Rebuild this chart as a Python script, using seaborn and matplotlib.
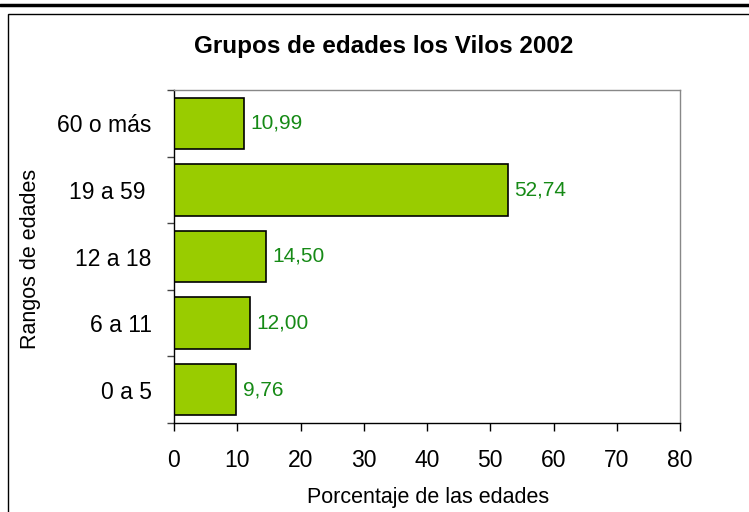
import matplotlib
matplotlib.use("Agg")
import matplotlib.pyplot as plt
import seaborn as sns
import pandas as pd
from matplotlib.patches import Rectangle
from matplotlib.lines import Line2D

rangos = ["60 o más", "19 a 59 ", "12 a 18", "6 a 11", "0 a 5"]
porcentajes = [10.99, 52.74, 14.50, 12.00, 9.76]
ticks_x = [0, 10, 20, 30, 40, 50, 60, 70, 80]

df = pd.DataFrame({"rango": rangos, "pct": porcentajes})

sns.set_style("white")
plt.rcParams["font.family"] = ["Liberation Sans", "DejaVu Sans"]
plt.rcParams["text.color"] = "black"
plt.rcParams["xtick.color"] = "black"
plt.rcParams["ytick.color"] = "black"

fig = plt.figure(figsize=(7.49, 5.12), dpi=100)
ax = fig.add_axes([174 / 749, 1 - 423 / 512, (680 - 174) / 749, (423 - 90) / 512])

sns.barplot(data=df, x="pct", y="rango", order=rangos, orient="h",
            color="#99CC00", saturation=1, edgecolor="black", linewidth=1.2,
            width=0.77, ax=ax)

for i, v in enumerate(porcentajes):
    ax.text(v + 1.1, i, f"{v:.2f}".replace(".", ","), va="center", ha="left",
            color="#168A16", fontsize=15)

ax.set_xlim(0, 80)
ax.set_ylim(4.5, -0.5)
ax.set_xticks(ticks_x)
ax.tick_params(axis="x", direction="out", length=6, width=1, color="black",
               labelsize=16.5, pad=13, bottom=True)
ax.set_yticks(range(len(rangos)))
ax.set_yticklabels(rangos)
ax.tick_params(axis="y", which="major", length=0, labelsize=16.5, pad=16)
ax.set_yticks([i - 0.5 for i in range(len(rangos) + 1)], minor=True)
ax.tick_params(axis="y", which="minor", direction="out", length=5, width=1,
               color="#444444", left=True)

for s in ["left", "bottom"]:
    ax.spines[s].set_color("black")
    ax.spines[s].set_linewidth(1)
for s in ["top", "right"]:
    ax.spines[s].set_color("#888888")
    ax.spines[s].set_linewidth(1)

ax.set_xlabel("")
ax.set_ylabel("")
fig.text(384 / 749, 1 - 47 / 512, "Grupos de edades los Vilos 2002", ha="center",
         va="center", fontsize=17.5, fontweight="bold")
fig.text(428 / 749, 1 - 497 / 512, "Porcentaje de las edades", ha="center",
         va="center", fontsize=15.5)
fig.text(31 / 749, 1 - 259 / 512, "Rangos de edades", ha="center", va="center",
         fontsize=15.5, rotation=90)

# marco del grafico y linea superior
fig.patches.append(Rectangle((8 / 749, -0.05), 1.0, 1 - 14 / 512 + 0.05,
                             transform=fig.transFigure, fill=False,
                             edgecolor="black", linewidth=1))
fig.lines.append(Line2D([0, 1], [1 - 5 / 512, 1 - 5 / 512],
                        transform=fig.transFigure, color="black", linewidth=2.5))

fig.savefig("out.png", dpi=100)
